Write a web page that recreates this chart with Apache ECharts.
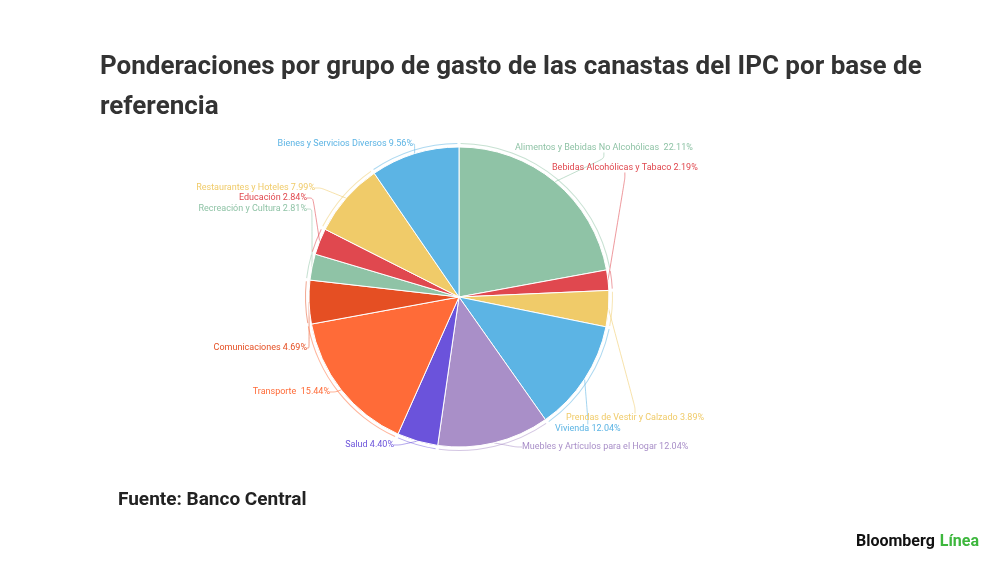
<!DOCTYPE html>
<html lang="es">
<head>
<meta charset="UTF-8">
<title>Ponderaciones IPC</title>
<script src="https://cdn.jsdelivr.net/npm/echarts@6/dist/echarts.min.js"></script>
<style>
    html, body { margin: 0; padding: 0; background: #fff; }
    #main { width: 1000px; height: 562px; }
</style>
</head>
<body>
<div id="main"></div>
<script>
// grupos de gasto (en orden de las agujas del reloj desde arriba)
var categorias = [
    'Alimentos y Bebidas No Alcohólicas ',
    'Bebidas Alcohólicas y Tabaco',
    'Prendas de Vestir y Calzado',
    'Vivienda',
    'Muebles y Artículos para el Hogar',
    'Salud',
    'Transporte ',
    'Comunicaciones',
    'Recreación y Cultura',
    'Educación',
    'Restaurantes y Hoteles',
    'Bienes y Servicios Diversos'
];
var ponderaciones = [22.11, 2.19, 3.89, 12.04, 12.04, 4.40, 15.44, 4.69, 2.81, 2.84, 7.99, 9.56];
var colores = ['#8fc3a6', '#e0484f', '#f0cb69', '#5cb4e4', '#a98fc8', '#6b53db',
               '#ff6b38', '#e54f23', '#8fc3a6', '#e0484f', '#f0cb69', '#5cb4e4'];

// donde va cada etiqueta: [x, y, alineación]
var posEtiquetas = [
    [515, 148, 'left'], [552, 168, 'left'], [566, 418, 'left'], [555, 429, 'left'],
    [522, 447, 'left'], [394, 445, 'right'], [330, 392, 'right'], [307, 348, 'right'],
    [307, 209, 'right'], [307, 198, 'right'], [315, 188, 'right'], [413, 144, 'right']
];

var datos = [];
for (var i = 0; i < categorias.length; i++) {
    datos.push({
        name: categorias[i],
        value: ponderaciones[i],
        itemStyle: { color: colores[i] },
        label: { color: colores[i] },
        labelLine: { lineStyle: { color: colores[i] } }
    });
}

var chart = echarts.init(document.getElementById('main'));

var option = {
    animation: false,
    backgroundColor: '#fff',
    title: [{
        text: 'Ponderaciones por grupo de gasto de las canastas del IPC por base de\nreferencia',
        left: 95,
        top: 42,
        textStyle: {
            fontFamily: 'Roboto',
            fontWeight: 'bold',
            fontSize: 26,
            lineHeight: 40,
            color: '#333'
        }
    }, {
        text: 'Fuente: Banco Central',
        left: 113,
        top: 486,
        textStyle: { fontFamily: 'Roboto', fontWeight: 'bold', fontSize: 19, color: '#222' }
    }, {
        text: '{a|Bloomberg} {b|Línea}',
        right: 16,
        top: 528,
        textStyle: {
            rich: {
                a: { fontFamily: 'Roboto', fontWeight: 'bold', fontSize: 16, color: '#111' },
                b: { fontFamily: 'Roboto', fontWeight: 'bold', fontSize: 16, color: '#3db73d' }
            }
        }
    }],
    series: [{
        // corchetes finos alrededor de cada porción
        type: 'pie',
        silent: true,
        center: [459, 297],
        radius: [153, 154],
        padAngle: 1.2,
        label: { show: false },
        labelLine: { show: false },
        itemStyle: { opacity: 0.5 },
        data: datos.map(function (d, i) {
            return { name: d.name, value: d.value, itemStyle: { color: colores[i] } };
        })
    }, {
        type: 'pie',
        center: [459, 297],
        radius: [0, 150],
        startAngle: 90,
        clockwise: true,
        itemStyle: { borderColor: '#fff', borderWidth: 1 },
        label: {
            show: true,
            fontFamily: 'Roboto',
            fontSize: 9,
            formatter: function (p) { return p.name + ' ' + p.value.toFixed(2) + '%'; }
        },
        labelLine: {
            show: true,
            length: 6,
            length2: 6,
            smooth: 0.3,
            lineStyle: { width: 0.8, opacity: 0.7 }
        },
        labelLayout: function (p) {
            var pos = posEtiquetas[p.dataIndex];
            return { x: pos[0], y: pos[1], align: pos[2], verticalAlign: 'middle' };
        },
        data: datos
    }]
};

chart.setOption(option);
</script>
</body>
</html>
